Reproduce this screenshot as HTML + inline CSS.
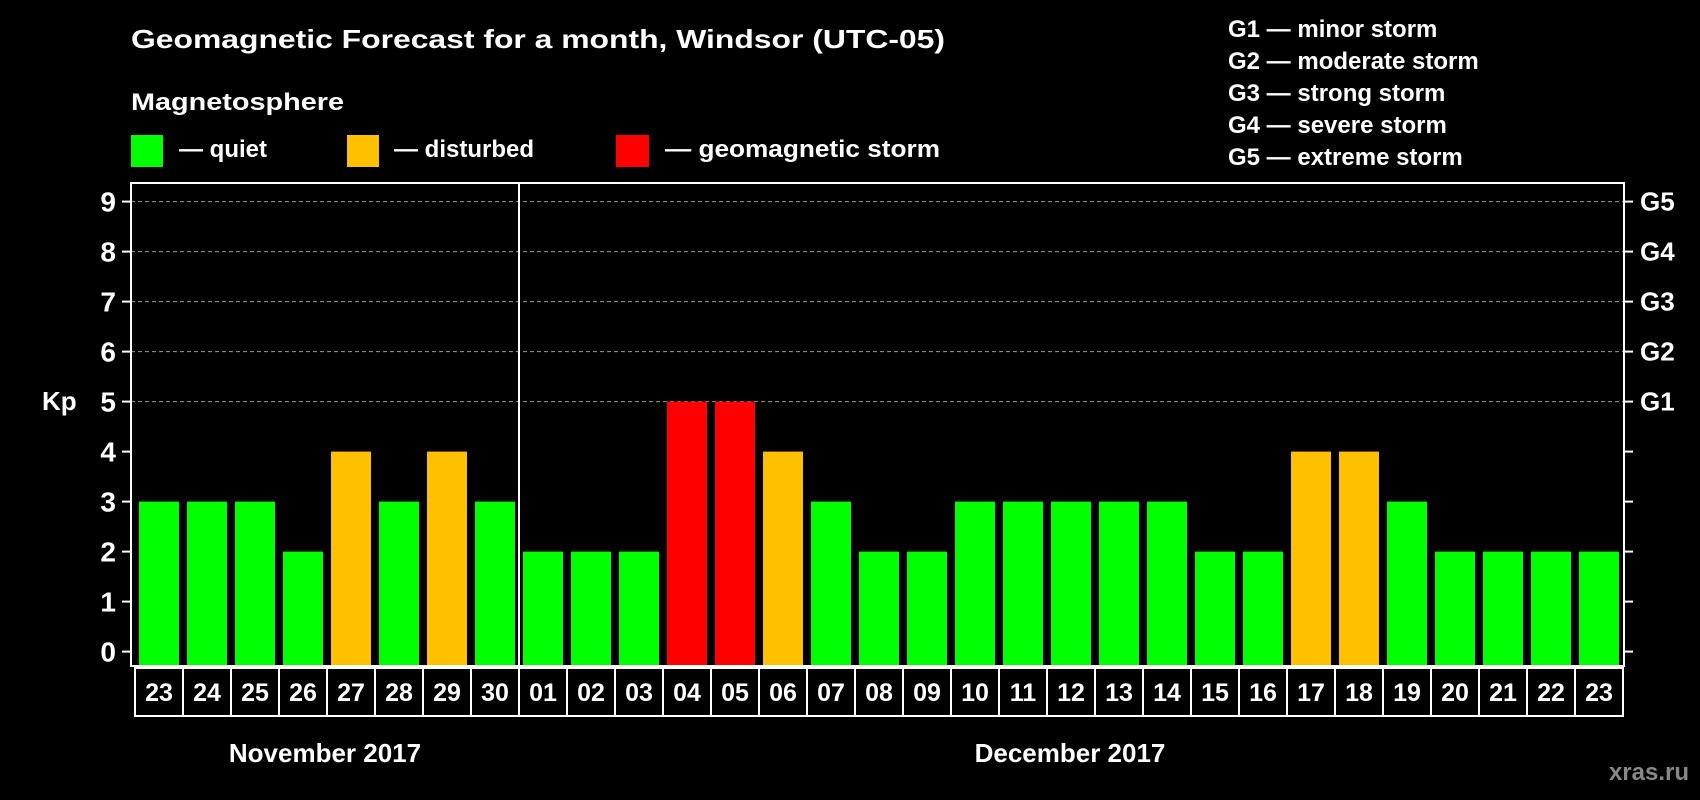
<!DOCTYPE html>
<html><head><meta charset="utf-8"><style>
html,body{margin:0;padding:0;background:#000;}
svg{display:block;font-family:"Liberation Sans",Arial,sans-serif;font-weight:bold;}
</style></head><body>
<svg id="chart" width="1700" height="800" viewBox="0 0 1700 800" xmlns="http://www.w3.org/2000/svg">
<rect width="1700" height="800" fill="#000"/>
<text x="131" y="48" font-size="26" fill="#fff" textLength="814" lengthAdjust="spacingAndGlyphs">Geomagnetic Forecast for a month, Windsor (UTC-05)</text>
<text x="131" y="110" font-size="24" fill="#fff" textLength="213" lengthAdjust="spacingAndGlyphs">Magnetosphere</text>
<rect x="131" y="135" width="32" height="32" fill="#00ff00"/>
<text x="179" y="157" font-size="24" fill="#fff">— quiet</text>
<rect x="347" y="135" width="32" height="32" fill="#ffc000"/>
<text x="394" y="157" font-size="24" fill="#fff">— disturbed</text>
<rect x="616" y="135" width="33" height="32" fill="#ff0000"/>
<text x="665" y="157" font-size="24" fill="#fff" textLength="275" lengthAdjust="spacingAndGlyphs">— geomagnetic storm</text>
<g font-size="24" fill="#fff">
<text x="1228" y="37">G1 — minor storm</text>
<text x="1228" y="69">G2 — moderate storm</text>
<text x="1228" y="101">G3 — strong storm</text>
<text x="1228" y="133">G4 — severe storm</text>
<text x="1228" y="165">G5 — extreme storm</text>
</g>
<text x="42" y="410" font-size="26" fill="#fff">Kp</text>
<text x="325" y="762" font-size="26" fill="#fff" text-anchor="middle">November 2017</text>
<text x="1070" y="762" font-size="26" fill="#fff" text-anchor="middle">December 2017</text>
<text x="1689" y="780" font-size="24" fill="#888" text-anchor="end">xras.ru</text>
<g id="plot"></g>
</svg>
<script>
const days = ["23","24","25","26","27","28","29","30","01","02","03","04","05","06","07","08","09","10","11","12","13","14","15","16","17","18","19","20","21","22","23"];
const kpValues = [3,3,3,2,4,3,4,3,2,2,2,5,5,4,3,2,2,3,3,3,3,3,2,2,4,4,3,2,2,2,2];
const yTicks = [0,1,2,3,4,5,6,7,8,9];
const gLabels = ["G1","G2","G3","G4","G5"];
const gLevels = [5,6,7,8,9];
const monthSplitIndex = 8;

const NS = "http://www.w3.org/2000/svg";
const plot = document.getElementById('plot');
const X0 = 135, SLOT = 48, BOXL = 131, BOXR = 1624, BOXT = 183, BOXB = 666;
const Y0 = 651.6, UNIT = 50;
function y(v){ return Y0 - v*UNIT; }
function x(i){ return X0 + i*SLOT; }
function mk(tag, attrs){ const e = document.createElementNS(NS, tag); for (const k in attrs) e.setAttribute(k, attrs[k]); plot.appendChild(e); return e; }
function color(v){ return v >= 5 ? "#ff0000" : (v >= 4 ? "#ffc000" : "#00ff00"); }

// grid lines for G levels
gLevels.forEach((lv, j) => {
  const g = mk('line', {x1: BOXL, x2: BOXR, y1: y(lv), y2: y(lv), stroke: "#999", "stroke-width": 1, "stroke-dasharray": "4,3"});
  
  
  const t = mk('text', {x: 1640, y: y(lv) + 9, "font-size": 26, fill: "#fff"});
  t.textContent = gLabels[j];
  
  
});

// bars
kpValues.forEach((v, i) => {
  const r = mk('rect', {x: x(i) + 4, y: y(v), width: 40, height: BOXB - y(v), fill: color(v)});
  
  
});

// y ticks
yTicks.forEach(v => {
  const l = mk('line', {x1: BOXL - 9, x2: BOXL, y1: y(v), y2: y(v), stroke: "#fff", "stroke-width": 2});
  
  
  const r = mk('line', {x1: BOXR, x2: BOXR + 9, y1: y(v), y2: y(v), stroke: "#fff", "stroke-width": 2});
  
  
  const t = mk('text', {x: 116, y: y(v) + 10, "font-size": 28, fill: "#fff", "text-anchor": "end"});
  t.textContent = v;
  
  
});

// plot box & divider
const box = mk('rect', {x: BOXL, y: BOXT, width: BOXR - BOXL, height: BOXB - BOXT, fill: "none", stroke: "#fff", "stroke-width": 2});


const div = mk('line', {x1: x(monthSplitIndex), x2: x(monthSplitIndex), y1: BOXT, y2: BOXB, stroke: "#fff", "stroke-width": 2});



// day label boxes
days.forEach((d, i) => {
  const b = mk('rect', {x: x(i), y: 668, width: SLOT, height: 48, fill: "#000", stroke: "#fff", "stroke-width": 2});
  
  
  const t = mk('text', {x: x(i) + SLOT/2, y: 701, "font-size": 25, fill: "#fff", "text-anchor": "middle"});
  t.textContent = d;
  
  
});
</script>
</body></html>
